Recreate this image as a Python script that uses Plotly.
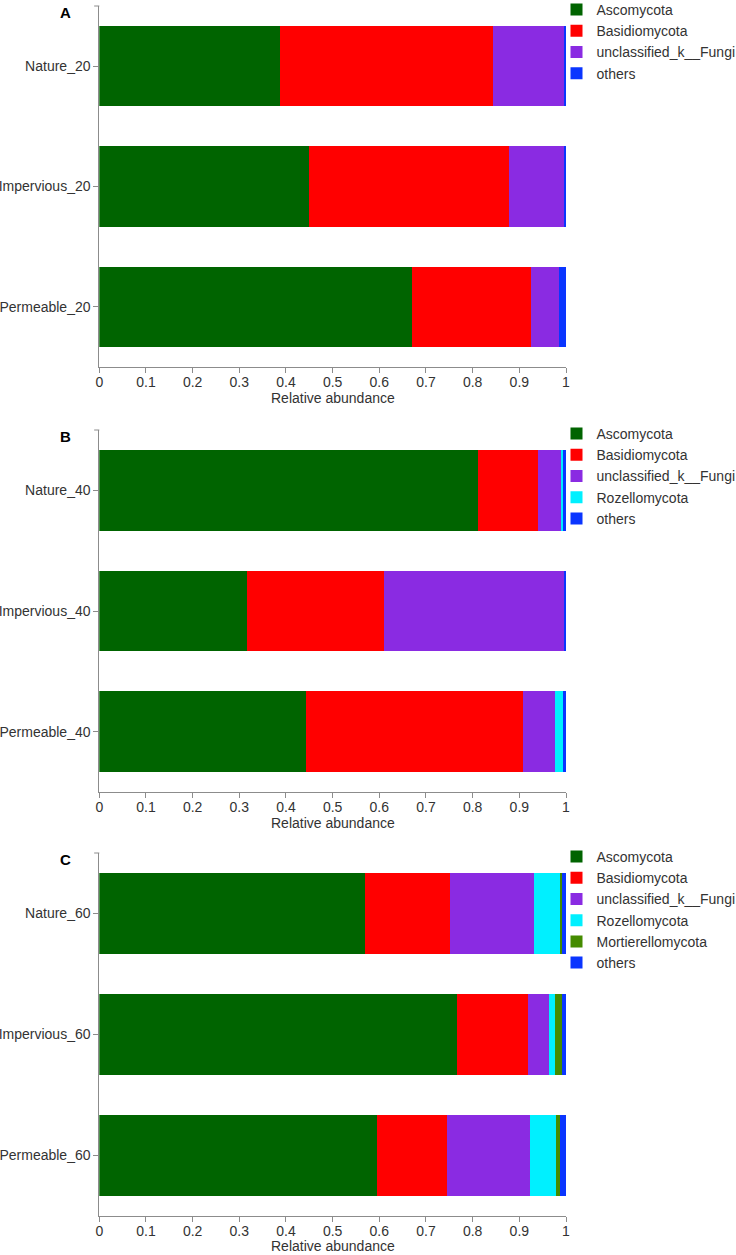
import plotly.graph_objects as go

# relative abundance per sample
samples_20 = ["Nature_20", "Impervious_20", "Permeable_20"]
samples_40 = ["Nature_40", "Impervious_40", "Permeable_40"]
samples_60 = ["Nature_60", "Impervious_60", "Permeable_60"]

ascomycota_20 = [0.387, 0.449, 0.671]
basidiomycota_20 = [0.456, 0.428, 0.253]
unclassified_20 = [0.152, 0.118, 0.062]
others_20 = [0.005, 0.005, 0.014]

ascomycota_40 = [0.812, 0.317, 0.443]
basidiomycota_40 = [0.128, 0.294, 0.465]
unclassified_40 = [0.052, 0.384, 0.068]
rozellomycota_40 = [0.002, 0.000, 0.020]
others_40 = [0.006, 0.005, 0.004]

ascomycota_60 = [0.569, 0.766, 0.594]
basidiomycota_60 = [0.182, 0.153, 0.150]
unclassified_60 = [0.180, 0.044, 0.179]
rozellomycota_60 = [0.057, 0.013, 0.055]
mortierellomycota_60 = [0.003, 0.015, 0.009]
others_60 = [0.009, 0.009, 0.013]

x_ticks = [0, 0.1, 0.2, 0.3, 0.4, 0.5, 0.6, 0.7, 0.8, 0.9, 1]
x_ticklabels = ["0", "0.1", "0.2", "0.3", "0.4", "0.5", "0.6", "0.7", "0.8", "0.9", "1"]

colors = {
    "Ascomycota": "#006400",
    "Basidiomycota": "#ff0000",
    "unclassified_k__Fungi": "#8a2be2",
    "Rozellomycota": "#00f0ff",
    "Mortierellomycota": "#458b00",
    "others": "#0a35ff",
}

panels = [
    ("A", samples_20, [
        ("Ascomycota", ascomycota_20),
        ("Basidiomycota", basidiomycota_20),
        ("unclassified_k__Fungi", unclassified_20),
        ("others", others_20),
    ]),
    ("B", samples_40, [
        ("Ascomycota", ascomycota_40),
        ("Basidiomycota", basidiomycota_40),
        ("unclassified_k__Fungi", unclassified_40),
        ("Rozellomycota", rozellomycota_40),
        ("others", others_40),
    ]),
    ("C", samples_60, [
        ("Ascomycota", ascomycota_60),
        ("Basidiomycota", basidiomycota_60),
        ("unclassified_k__Fungi", unclassified_60),
        ("Rozellomycota", rozellomycota_60),
        ("Mortierellomycota", mortierellomycota_60),
        ("others", others_60),
    ]),
]

W, H = 736, 1255
# pixel rows of each plot area (top, bottom)
rows = [(6, 367), (430, 792), (853, 1216)]
x_left, x_right = 99.3, 566.0

axis_color = "#8c8c8c"
text_color = "#333333"
font_family = "Liberation Sans, Arial, sans-serif"

fig = go.Figure()
layout = {}
annotations = []
shapes = []

for i, (label, samples, series) in enumerate(panels):
    n = "" if i == 0 else str(i + 1)
    xa, ya = "x" + n, "y" + n
    legend_name = "legend" + n
    for name, vals in series:
        fig.add_trace(go.Bar(
            x=vals, y=samples, orientation="h", name=name,
            marker=dict(color=colors[name], line=dict(width=0)),
            xaxis=xa, yaxis=ya, legend=legend_name,
        ))
    top, bottom = rows[i]
    y0, y1 = 1 - bottom / H, 1 - top / H
    layout["xaxis" + n] = dict(
        domain=[x_left / W, x_right / W], anchor=ya, range=[0, 1],
        tickvals=x_ticks, ticktext=x_ticklabels, automargin=False,
        showline=True, linecolor=axis_color, linewidth=1,
        ticks="outside", ticklen=5, tickcolor=axis_color,
        ticklabelstandoff=-3,
        showgrid=False, zeroline=False,
        tickfont=dict(size=14, color=text_color, family=font_family),
    )
    layout["yaxis" + n] = dict(
        domain=[y0, y1], anchor=xa, autorange="reversed", automargin=False,
        showline=True, linecolor=axis_color, linewidth=1,
        ticks="outside", ticklen=5, tickcolor=axis_color,
        showgrid=False, zeroline=False,
        tickfont=dict(size=14, color=text_color, family=font_family),
    )
    layout[legend_name] = dict(
        x=556.5 / W, xanchor="left", y=1 - (top - 12) / H, yanchor="top",
        bgcolor="rgba(0,0,0,0)", borderwidth=0, traceorder="normal",
        tracegroupgap=0, itemclick=False,
        font=dict(size=14, color=text_color, family=font_family),
    )
    annotations.append(dict(
        text="<b>" + label + "</b>", x=65 / W, y=1 - (top + 6) / H,
        xref="paper", yref="paper", showarrow=False,
        xanchor="center", yanchor="middle",
        font=dict(size=15, color="black", family=font_family),
    ))
    title_y = min(bottom + 31, H - 9)
    annotations.append(dict(
        text="Relative abundance", x=0.5, y=1 - title_y / H,
        xref=xa + " domain", yref="paper", showarrow=False,
        xanchor="center", yanchor="middle",
        font=dict(size=14, color=text_color, family=font_family),
    ))
    # small outer tick at the top end of the y axis
    shapes.append(dict(
        type="line", xref=xa + " domain", yref=ya + " domain",
        x0=-0.011, x1=0, y0=1, y1=1,
        line=dict(color=axis_color, width=1),
    ))

fig.update_layout(
    width=W, height=H,
    margin=dict(l=0, r=0, t=0, b=0, autoexpand=False),
    plot_bgcolor="white", paper_bgcolor="white",
    barmode="stack", bargap=1 / 3,
    annotations=annotations, shapes=shapes,
    font=dict(family=font_family, color=text_color),
    **layout,
)

fig.write_html(
    "out.html",
    config={"displayModeBar": False},
    post_script="document.body.style.margin='0';document.body.style.overflow='hidden';",
)
